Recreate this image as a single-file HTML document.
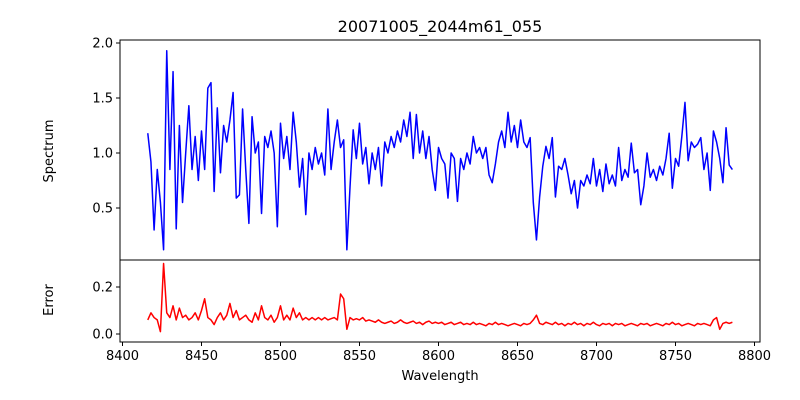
<!DOCTYPE html>
<html><head><meta charset="utf-8"><style>
html,body{margin:0;padding:0;background:#fff;}
svg{display:block;font-family:"DejaVu Sans","Liberation Sans",sans-serif;}
</style></head><body>
<svg id="chart" width="800" height="400" viewBox="0 0 800 400" xmlns="http://www.w3.org/2000/svg">
<rect x="0" y="0" width="800" height="400" fill="#fff"/>
<text x="440" y="32" font-size="16" text-anchor="middle">20071005_2044m61_055</text>
<text x="0" y="0" font-size="13" text-anchor="middle" transform="translate(53,151) rotate(-90)">Spectrum</text>
<text x="0" y="0" font-size="13" text-anchor="middle" transform="translate(53,300) rotate(-90)">Error</text>
<text x="440" y="380" font-size="13" text-anchor="middle">Wavelength</text>
<g id="marks"></g>
<g id="axes"></g>
</svg>
<script>
const lambdaStart = 8416;
const lambdaStep = 2;
const spectrumValues = [1.18,0.92,0.30,0.85,0.55,0.12,1.93,0.85,1.74,0.31,1.25,0.55,
1.0,1.43,0.85,1.15,0.75,1.2,0.85,1.59,1.64,0.65,1.41,0.82,1.25,1.1,1.3,
1.55,0.59,0.62,1.40,0.85,0.36,1.33,1.0,1.1,0.45,1.15,1.05,1.2,1.0,0.33,1.27,0.95,1.15,0.85,1.37,1.1,0.69,0.95,0.44,
1.0,0.85,1.05,0.9,1.0,0.8,1.40,0.85,1.1,1.3,1.05,1.12,0.12,0.69,1.21,0.95,1.27,0.9,1.05,0.72,
1.0,0.85,1.05,0.7,1.1,1.0,1.15,1.05,1.2,1.1,1.3,1.15,1.37,0.95,1.35,1.0,1.2,0.95,1.15,0.85,
0.66,1.05,0.95,0.9,0.59,1.0,0.95,0.56,0.95,0.85,1.0,0.9,1.15,1.0,1.05,0.95,1.05,0.8,0.73,0.9,
1.1,1.2,1.05,1.37,1.1,1.25,1.05,1.3,1.1,1.05,1.14,0.55,0.21,0.6,0.88,1.06,0.95,1.14,0.6,0.88,
0.85,0.95,0.8,0.63,0.75,0.5,0.75,0.7,0.8,0.72,0.95,0.7,0.85,0.65,0.9,0.72,0.8,0.7,1.05,0.75,
0.85,0.78,1.09,0.82,0.85,0.53,0.7,1.0,0.78,0.85,0.75,0.88,0.8,0.95,1.18,0.68,0.95,0.88,1.15,1.46,
0.93,1.1,1.05,1.08,1.14,0.85,1.0,0.66,1.2,1.1,0.95,0.73,1.23,0.89,0.85];
const errorValues = [0.06,0.09,0.07,0.06,0.01,0.30,0.09,0.07,0.12,0.06,0.11,0.07,
0.08,0.06,0.07,0.09,0.06,0.10,0.15,0.07,0.06,0.04,0.07,0.09,0.06,0.08,0.13,
0.07,0.10,0.06,0.07,0.08,0.06,0.05,0.09,0.06,0.12,0.07,0.06,0.08,0.05,0.07,0.12,0.06,0.08,0.06,0.11,0.07,0.09,0.06,0.07,
0.06,0.07,0.06,0.07,0.06,0.07,0.06,0.065,0.07,0.06,0.17,0.15,0.02,0.07,0.06,0.065,0.06,0.07,0.055,0.06,
0.055,0.05,0.06,0.05,0.045,0.05,0.055,0.045,0.05,0.06,0.05,0.045,0.05,0.055,0.045,0.05,0.04,0.05,0.055,0.045,0.05,0.045,0.05,0.04,0.045,0.05,0.04,0.045,0.05,0.04,0.045,0.04,0.05,0.04,0.045,0.04,0.035,0.045,0.04,0.05,0.04,0.045,0.04,0.035,0.04,0.045,0.04,0.035,0.045,0.04,
0.045,0.06,0.08,0.045,
0.04,0.05,0.045,0.04,0.05,0.04,0.045,0.035,0.045,0.04,0.05,0.04,0.045,0.035,0.045,0.04,0.05,0.04,0.035,0.045,0.04,0.045,0.035,0.045,0.04,0.045,0.035,0.04,0.045,0.04,0.035,0.045,0.04,0.045,0.035,0.04,0.045,0.04,0.035,0.045,0.04,0.05,0.04,0.045,0.035,0.04,0.045,0.04,0.035,0.045,0.04,0.045,0.04,0.035,0.06,0.07,0.02,0.045,0.05,0.045,0.05];
const xTicks = [8400,8450,8500,8550,8600,8650,8700,8750,8800];
const specTicks = [0.5,1.0,1.5,2.0];
const specTickLabels = ["0.5","1.0","1.5","2.0"];
const errTicks = [0.0,0.2];
const errTickLabels = ["0.0","0.2"];

const NS = "http://www.w3.org/2000/svg";
const L = 120, R = 760;
const topP = {t:40, b:260}, botP = {t:260, b:342};
function xScale(v){ return 122.5 + (v - 8400) * 1.58; }
function ySpec(v){ return 153 - (v - 1.0) * 110; }
function yErr(v){ return 334 - v * 235; }
function mk(tag, attrs, parent){
  const e = document.createElementNS(NS, tag);
  for (const k in attrs) e.setAttribute(k, attrs[k]);
  parent.appendChild(e);
  return e;
}
const marks = document.getElementById('marks');
const axes = document.getElementById('axes');

function linePath(vals, yf){
  return vals.map((v,i)=> (i? 'L':'M') + xScale(lambdaStart + i*lambdaStep).toFixed(2) + ' ' + yf(v).toFixed(2)).join(' ');
}
const sp = mk('path', {d: linePath(spectrumValues, ySpec), fill:'none', stroke:'#0000ff', 'stroke-width':1.5, 'stroke-linejoin':'round'}, marks);


const ep = mk('path', {d: linePath(errorValues, yErr), fill:'none', stroke:'#ff0000', 'stroke-width':1.5, 'stroke-linejoin':'round'}, marks);



const f1 = mk('rect', {x:L, y:topP.t, width:R-L, height:topP.b-topP.t, fill:'none', stroke:'#000', 'stroke-width':1}, axes);


const f2 = mk('rect', {x:L, y:botP.t, width:R-L, height:botP.b-botP.t, fill:'none', stroke:'#000', 'stroke-width':1}, axes);



xTicks.forEach(t=>{
  const x = xScale(t);
  mk('line', {x1:x, x2:x, y1:botP.b, y2:botP.b+4, stroke:'#000'}, axes);
  const tx = mk('text', {x:x, y:botP.b+18, 'font-size':13, 'text-anchor':'middle'}, axes);
  tx.textContent = t;
  
  
});
specTicks.forEach((t,i)=>{
  const y = ySpec(t);
  mk('line', {x1:L-4, x2:L, y1:y, y2:y, stroke:'#000'}, axes);
  const tx = mk('text', {x:L-7, y:y+4.5, 'font-size':13, 'text-anchor':'end'}, axes);
  tx.textContent = specTickLabels[i];
  
  
});
errTicks.forEach((t,i)=>{
  const y = yErr(t);
  mk('line', {x1:L-4, x2:L, y1:y, y2:y, stroke:'#000'}, axes);
  const tx = mk('text', {x:L-7, y:y+4.5, 'font-size':13, 'text-anchor':'end'}, axes);
  tx.textContent = errTickLabels[i];
  
  
});
</script>
</body></html>
